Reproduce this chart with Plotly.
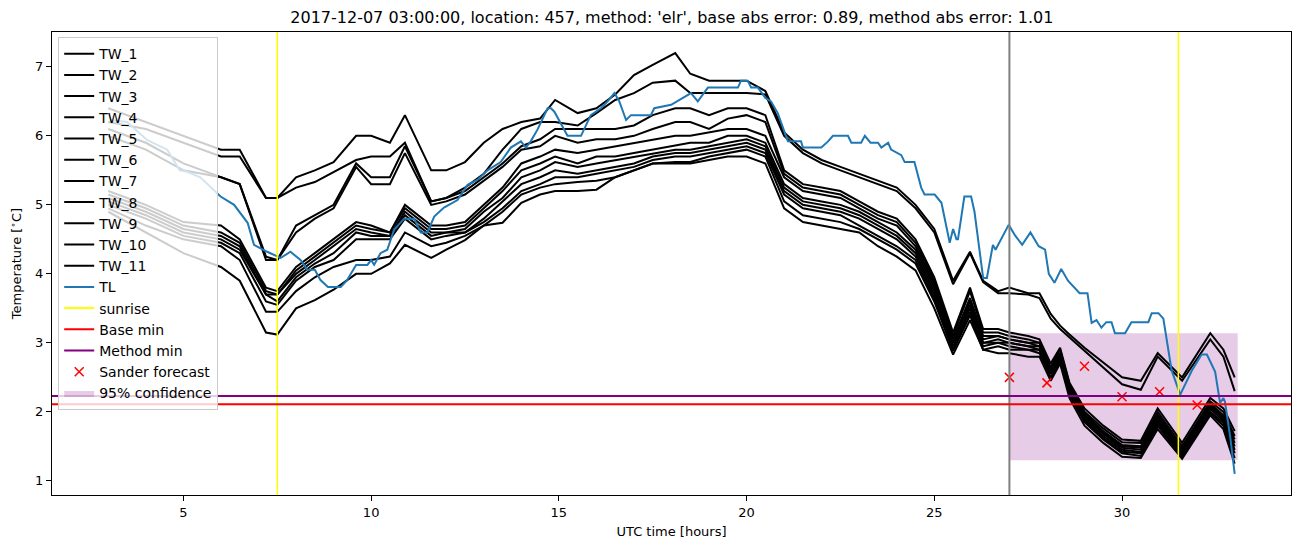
import plotly.graph_objects as go

# ---------------- data ----------------
hours = [3, 4, 5, 6, 6.5, 7.2, 7.5, 8, 8.5, 9, 9.6, 10, 10.5, 10.9, 11.6, 12, 12.5, 13, 13.5, 14,
         14.5, 14.9, 15.5, 16, 16.5, 17, 17.5, 18.1, 18.5, 19, 19.5, 20, 20.5, 21, 21.5, 22, 22.5,
         23, 23.5, 24, 24.5, 25, 25.5, 25.95, 26.3, 26.7, 27, 27.5, 27.8, 28.1, 28.35, 28.6, 29,
         29.5, 30, 30.5, 30.95, 31.6, 32.35, 32.7, 33]

TW_1 = [6.4, 6.2, 6.0, 5.8, 5.8, 5.1, 5.1, 5.4, 5.5, 5.62, 6.0, 6.0, 5.9, 6.3, 5.5, 5.5, 5.62, 5.9, 6.1, 6.2,
        6.25, 6.52, 6.33, 6.4, 6.6, 6.88, 7.03, 7.2, 6.9, 6.8, 6.8, 6.8, 6.65, 6.05, 5.8, 5.65, 5.55,
        5.45, 5.35, 5.25, 5.0, 4.65, 3.9, 4.32, 3.9, 3.75, 3.8, 3.72, 3.72, 3.42, 3.25, 3.12, 2.93,
        2.72, 2.5, 2.45, 2.85, 2.5, 3.14, 2.9, 2.5]
TW_2 = [6.2, 6.1, 5.9, 5.7, 5.7, 5.1, 5.1, 5.25, 5.33, 5.48, 5.65, 5.7, 5.7, 5.9, 5.05, 5.1, 5.25, 5.45, 5.8, 6.1,
        6.2, 6.2, 6.15, 6.33, 6.52, 6.62, 6.77, 6.8, 6.62, 6.62, 6.62, 6.62, 6.6, 6.0, 5.75, 5.6, 5.5,
        5.4, 5.3, 5.2, 4.95, 4.6, 3.85, 4.3, 3.88, 3.72, 3.72, 3.7, 3.65, 3.35, 3.2, 3.08, 2.88,
        2.65, 2.4, 2.32, 2.8, 2.45, 3.05, 2.8, 2.3]
TW_3 = [6.1, 5.9, 5.6, 5.4, 5.3, 4.25, 4.2, 4.7, 4.85, 5.0, 5.6, 5.4, 5.4, 5.85, 5.05, 5.1, 5.2, 5.4, 5.6, 5.85,
        5.95, 6.1, 6.1, 6.1, 6.1, 6.15, 6.3, 6.4, 6.4, 6.3, 6.4, 6.4, 6.3, 5.5, 5.3, 5.25, 5.2,
        5.05, 4.9, 4.8, 4.5, 3.95, 3.15, 3.8, 3.2, 3.2, 3.15, 3.1, 3.05, 2.7, 2.93, 2.42, 2.05,
        1.8, 1.6, 1.58, 2.05, 1.55, 2.2, 2.05, 1.72]
TW_4 = [6.0, 5.8, 5.5, 5.4, 5.3, 4.2, 4.2, 4.6, 4.8, 4.95, 5.55, 5.3, 5.3, 5.75, 5.0, 5.05, 5.15, 5.35, 5.55, 5.8,
        5.85, 6.0, 5.9, 5.95, 5.95, 6.0, 6.1, 6.2, 6.2, 6.1, 6.25, 6.3, 6.2, 5.45, 5.25, 5.2, 5.15,
        5.0, 4.85, 4.75, 4.45, 3.9, 3.1, 3.75, 3.15, 3.15, 3.1, 3.05, 3.0, 2.65, 2.9, 2.4, 2.0,
        1.76, 1.56, 1.55, 2.0, 1.5, 2.15, 2.0, 1.65]
TW_5 = [5.2, 5.0, 4.75, 4.7, 4.5, 3.8, 3.75, 4.1, 4.3, 4.5, 4.75, 4.7, 4.6, 5.0, 4.7, 4.7, 4.75, 5.0, 5.25, 5.6,
        5.7, 5.8, 5.75, 5.8, 5.85, 5.9, 5.95, 6.0, 6.0, 6.05, 6.1, 6.1, 6.0, 5.4, 5.2, 5.15, 5.1,
        4.95, 4.8, 4.7, 4.4, 3.85, 3.05, 3.65, 3.1, 3.1, 3.05, 3.0, 3.0, 2.62, 2.85, 2.38, 1.98,
        1.72, 1.52, 1.5, 1.96, 1.46, 2.12, 1.95, 1.6]
TW_6 = [5.15, 4.95, 4.7, 4.6, 4.45, 3.75, 3.7, 4.05, 4.25, 4.45, 4.7, 4.65, 4.6, 4.95, 4.65, 4.65, 4.7, 4.95, 5.2, 5.5,
        5.6, 5.7, 5.6, 5.7, 5.7, 5.75, 5.8, 5.85, 5.9, 5.9, 6.0, 6.0, 5.9, 5.3, 5.1, 5.05, 5.0,
        4.9, 4.75, 4.6, 4.35, 3.8, 3.0, 3.6, 3.05, 3.1, 3.05, 3.0, 2.95, 2.6, 2.82, 2.35, 1.95,
        1.7, 1.5, 1.48, 1.93, 1.43, 2.1, 1.92, 1.55]
TW_7 = [5.1, 4.9, 4.65, 4.55, 4.4, 3.7, 3.7, 4.0, 4.2, 4.4, 4.65, 4.6, 4.55, 4.9, 4.6, 4.6, 4.65, 4.9, 5.1, 5.4,
        5.5, 5.62, 5.55, 5.6, 5.65, 5.7, 5.75, 5.8, 5.8, 5.85, 5.9, 5.95, 5.85, 5.25, 5.05, 5.0, 4.95,
        4.85, 4.7, 4.55, 4.3, 3.75, 3.0, 3.55, 3.0, 3.05, 3.0, 2.95, 2.95, 2.58, 2.8, 2.33, 1.93,
        1.68, 1.48, 1.45, 1.9, 1.4, 2.07, 1.9, 1.5]
TW_8 = [5.05, 4.85, 4.6, 4.5, 4.35, 3.7, 3.6, 3.95, 4.15, 4.3, 4.6, 4.55, 4.55, 4.85, 4.55, 4.6, 4.6, 4.8, 5.05, 5.3,
        5.4, 5.5, 5.45, 5.5, 5.55, 5.6, 5.7, 5.75, 5.75, 5.8, 5.85, 5.9, 5.8, 5.2, 5.0, 4.95, 4.9,
        4.8, 4.65, 4.5, 4.25, 3.7, 2.95, 3.5, 3.0, 3.0, 3.0, 2.95, 2.9, 2.55, 2.78, 2.3, 1.9,
        1.65, 1.45, 1.42, 1.87, 1.38, 2.04, 1.87, 1.45]
TW_9 = [5.0, 4.8, 4.55, 4.45, 4.3, 3.6, 3.55, 3.9, 4.1, 4.2, 4.5, 4.5, 4.5, 4.8, 4.5, 4.55, 4.6, 4.75, 4.95, 5.2,
        5.3, 5.4, 5.4, 5.45, 5.5, 5.55, 5.65, 5.7, 5.7, 5.75, 5.8, 5.85, 5.75, 5.15, 4.95, 4.9, 4.85,
        4.7, 4.55, 4.4, 4.2, 3.65, 2.9, 3.45, 2.95, 3.0, 2.95, 2.9, 2.9, 2.55, 2.75, 2.28, 1.88,
        1.62, 1.42, 1.4, 1.84, 1.36, 2.0, 1.84, 1.4]
TW_10 = [4.95, 4.7, 4.5, 4.4, 4.2, 3.45, 3.45, 3.75, 3.95, 4.1, 4.2, 4.2, 4.25, 4.6, 4.4, 4.45, 4.55, 4.7, 4.9, 5.15,
         5.25, 5.3, 5.33, 5.35, 5.4, 5.5, 5.6, 5.62, 5.62, 5.7, 5.75, 5.8, 5.7, 5.05, 4.85, 4.8, 4.75,
         4.65, 4.5, 4.35, 4.15, 3.6, 2.88, 3.4, 2.9, 2.95, 2.9, 2.9, 2.85, 2.5, 2.72, 2.25, 1.85,
         1.6, 1.4, 1.36, 1.8, 1.34, 1.98, 1.8, 1.33]
TW_11 = [4.9, 4.6, 4.3, 4.1, 3.9, 3.15, 3.12, 3.5, 3.62, 3.77, 4.0, 4.0, 4.15, 4.42, 4.23, 4.35, 4.49, 4.7, 4.74, 5.03,
         5.15, 5.2, 5.2, 5.22, 5.4, 5.5, 5.6, 5.6, 5.6, 5.65, 5.7, 5.7, 5.6, 4.95, 4.75, 4.7, 4.65,
         4.6, 4.4, 4.25, 4.05, 3.5, 2.83, 3.33, 2.9, 2.85, 2.85, 2.8, 2.8, 2.45, 2.7, 2.2, 1.8,
         1.55, 1.35, 1.33, 1.75, 1.32, 1.95, 1.75, 1.25]

TL_hours = [3.05, 3.5, 4.03, 4.57, 4.9, 5.1, 5.45, 5.99, 6.35, 6.71, 6.88, 7.23, 7.59, 7.85, 8.12, 8.3,
            8.5, 8.65, 8.85, 9.19, 9.35, 9.6, 9.9, 10.0, 10.08, 10.25, 10.43, 10.61, 10.88, 11.15, 11.32,
            11.5, 11.68, 11.94, 12.3, 12.57, 12.83, 13.1, 13.45, 13.72, 13.99, 14.12, 14.25, 14.43, 14.7,
            14.79, 14.88, 15.23, 15.59, 15.85, 16.12, 16.3, 16.48, 16.61, 16.79, 16.92, 17.45, 17.54,
            17.99, 18.52, 18.7, 18.97, 19.77, 19.85, 20.03, 20.12, 20.3, 20.5, 20.65, 20.83, 21.1, 21.45,
            21.5, 21.99, 22.17, 22.3, 22.7, 22.79, 23.05, 23.15, 23.3, 23.5, 23.59, 23.77, 23.85, 24.12,
            24.21, 24.47, 24.65, 24.74, 25.01, 25.19, 25.41, 25.5, 25.59, 25.63, 25.8, 25.98, 26.07,
            26.3, 26.4, 26.56, 26.63, 26.98, 27.16, 27.34, 27.56, 27.78, 27.95, 28.05, 28.2, 28.38,
            28.56, 28.87, 29.08, 29.19, 29.32, 29.45, 29.58, 29.72, 29.81, 30.08, 30.25, 30.7, 30.79,
            30.97, 31.1, 31.32, 31.55, 31.68, 31.86, 32.12, 32.26, 32.48, 32.61, 32.7, 32.74, 32.88, 33.0]
TL = [6.23, 6.2, 5.94, 5.8, 5.5, 5.48, 5.4, 5.12, 5.0, 4.74, 4.42, 4.32, 4.23, 4.32, 4.2, 4.06,
      4.06, 3.91, 3.81, 3.81, 3.9, 4.13, 4.13, 4.2, 4.13, 4.3, 4.35, 4.64, 4.8, 4.8, 4.6,
      4.6, 4.83, 4.96, 5.07, 5.29, 5.36, 5.5, 5.62, 5.83, 5.92, 5.83, 5.92, 6.09, 6.4,
      6.4, 6.35, 6.0, 6.0, 6.3, 6.4, 6.5, 6.62, 6.5, 6.23, 6.3, 6.3, 6.4,
      6.45, 6.62, 6.5, 6.7, 6.7, 6.8, 6.8, 6.7, 6.7, 6.55, 6.5, 6.33, 5.92, 5.92,
      5.83, 5.83, 5.92, 6.0, 6.0, 5.9, 5.9, 6.0, 5.9, 5.9, 5.83, 5.9, 5.8, 5.72,
      5.62, 5.62, 5.25, 5.15, 5.15, 5.03, 4.45, 4.65, 4.5, 4.5, 5.12, 5.12, 4.9,
      3.94, 3.94, 4.42, 4.35, 4.71, 4.55, 4.42, 4.6, 4.4, 4.35, 4.0, 3.87, 4.07,
      3.9, 3.72, 3.72, 3.29, 3.33, 3.22, 3.3, 3.3, 3.14, 3.14, 3.3, 3.3, 3.43,
      3.43, 3.35, 2.6, 2.25, 2.4, 2.6, 2.83, 2.83, 2.58, 2.13, 2.2, 2.15, 1.64, 1.1]

sunrise_hours = [7.5, 31.5]
forecast_hour = 27
base_min = 2.11
method_min = 2.23
sander_hours = [27, 28, 29, 30, 31, 32]
sander_values = [2.5, 2.42, 2.66, 2.22, 2.29, 2.1]
conf_start, conf_end = 27, 33.08
conf_lower, conf_upper = 1.3, 3.14

title = ("2017-12-07 03:00:00, location: 457, method: 'elr', "
         "base abs error: 0.89, method abs error: 1.01")

# ---------------- figure ----------------
FONT = "DejaVu Sans"
fig = go.Figure()

# confidence band drawn first (underneath the lines), listed last in the legend
fig.add_trace(go.Scatter(x=[conf_start, conf_end, conf_end, conf_start],
                         y=[conf_lower, conf_lower, conf_upper, conf_upper],
                         mode="lines", fill="toself", fillcolor="rgba(128,0,128,0.2)",
                         line=dict(width=0, color="rgba(128,0,128,0)"), name="95% confidence",
                         legendrank=2000))

tw_series = [TW_1, TW_2, TW_3, TW_4, TW_5, TW_6, TW_7, TW_8, TW_9, TW_10, TW_11]
for i, vals in enumerate(tw_series):
    fig.add_trace(go.Scatter(x=hours, y=vals, mode="lines", name=f"TW_{i+1}",
                             line=dict(color="black", width=2)))

fig.add_trace(go.Scatter(x=TL_hours, y=TL, mode="lines", name="TL",
                         line=dict(color="#1f77b4", width=2)))

# legend entries for reference lines (lines themselves drawn as shapes)
fig.add_trace(go.Scatter(x=[None], y=[None], mode="lines", name="sunrise",
                         line=dict(color="yellow", width=2)))
fig.add_trace(go.Scatter(x=[None], y=[None], mode="lines", name="Base min",
                         line=dict(color="red", width=2)))
fig.add_trace(go.Scatter(x=[None], y=[None], mode="lines", name="Method min",
                         line=dict(color="purple", width=2)))

fig.add_trace(go.Scatter(x=sander_hours, y=sander_values, mode="markers", name="Sander forecast",
                         marker=dict(symbol="x-thin", size=9, color="red",
                                     line=dict(color="red", width=1.5))))

shapes = []
for h in sunrise_hours:
    shapes.append(dict(type="line", xref="x", yref="paper", x0=h, x1=h, y0=0, y1=1,
                       line=dict(color="yellow", width=1.5), layer="above"))
shapes.append(dict(type="line", xref="x", yref="paper", x0=forecast_hour, x1=forecast_hour,
                   y0=0, y1=1, line=dict(color="grey", width=2), layer="above"))
shapes.append(dict(type="line", xref="paper", yref="y", x0=0, x1=1, y0=base_min, y1=base_min,
                   line=dict(color="red", width=2), layer="above"))
shapes.append(dict(type="line", xref="paper", yref="y", x0=0, x1=1, y0=method_min, y1=method_min,
                   line=dict(color="purple", width=2), layer="above"))

axis_common = dict(showgrid=False, zeroline=False, showline=True, linecolor="black", linewidth=1,
                   mirror=True, ticks="outside", ticklen=5, tickwidth=1, tickcolor="black",
                   tickfont=dict(family=FONT, size=13, color="black"))

fig.update_layout(
    width=1302, height=547,
    margin=dict(l=52, r=10, t=32, b=50),
    paper_bgcolor="white", plot_bgcolor="white",
    font=dict(family=FONT, color="black"),
    title=dict(text=title, x=0.516, xanchor="center", y=0.969, yanchor="middle",
               font=dict(family=FONT, size=16, color="black")),
    shapes=shapes,
    showlegend=True,
    legend=dict(x=0.005, y=0.989, xanchor="left", yanchor="top",
                bgcolor="rgba(255,255,255,0.8)", bordercolor="#cccccc", borderwidth=1,
                font=dict(family=FONT, size=14, color="black")),
    xaxis=dict(range=[1.5, 34.5], tickvals=[5, 10, 15, 20, 25, 30],
               title=dict(text="UTC time [hours]", font=dict(family=FONT, size=13), standoff=8),
               **axis_common),
    yaxis=dict(range=[0.795, 7.505], tickvals=[1, 2, 3, 4, 5, 6, 7],
               title=dict(text="Temperature [<sup>∘</sup>C]", font=dict(family=FONT, size=13), standoff=10),
               **axis_common),
)

fig.write_html("out.html")
